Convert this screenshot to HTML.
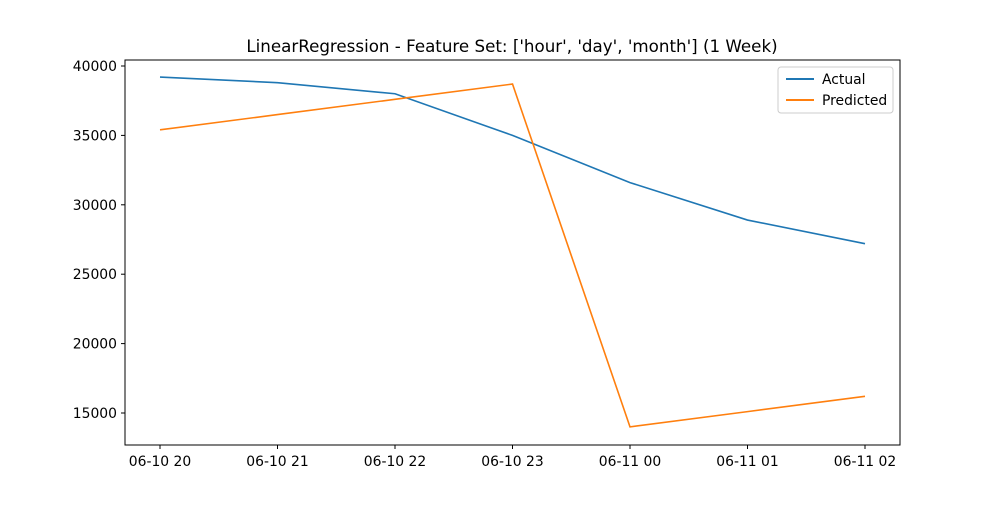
<!DOCTYPE html>
<html><head><meta charset="utf-8"><style>
body{margin:0;background:#fff;font-family:"Liberation Sans","DejaVu Sans",sans-serif}
svg text{font-family:"DejaVu Sans","Liberation Sans",sans-serif;font-size:13.9px;fill:#000}
</style></head><body>
<svg id="chart" width="1000" height="500">
<text x="512" y="52" text-anchor="middle" style="font-size:16.7px">LinearRegression - Feature Set: ['hour', 'day', 'month'] (1 Week)</text>
<g id="marks"></g>
<rect x="125" y="60" width="775" height="385" fill="none" stroke="#000" stroke-width="1"/>
<g>
<rect x="778" y="67" width="115" height="46" fill="#fff" stroke="#ccc" rx="3"/>
<line x1="786" y1="79" x2="814" y2="79" stroke="#1f77b4" stroke-width="2"/>
<text x="822" y="84">Actual</text>
<line x1="786" y1="100" x2="814" y2="100" stroke="#ff7f0e" stroke-width="2"/>
<text x="822" y="105">Predicted</text>
</g>
</svg>
<script>
const categories=["06-10 20","06-10 21","06-10 22","06-10 23","06-11 00","06-11 01","06-11 02"];
const actual=[39200,38800,38000,35000,31600,28900,27200];
const predicted=[35400,36500,37600,38700,14000,15100,16200];
const yTicks=[15000,20000,25000,30000,35000,40000];
const ns="http://www.w3.org/2000/svg";
const g=document.getElementById('marks');
const x=i=>160+i*(865-160)/(categories.length-1);
const y=v=>413-(v-15000)*(413-66)/25000;
function el(t,a){const e=document.createElementNS(ns,t);for(const k in a)e.setAttribute(k,a[k]);g.appendChild(e);return e;}
yTicks.forEach(v=>{
 const l=el('line',{x1:121,x2:125,y1:y(v),y2:y(v),stroke:'#000'});
 
 
 const t=el('text',{x:117,y:y(v)+5,'text-anchor':'end'});t.textContent=v;
 
 
});
categories.forEach((c,i)=>{
 const l=el('line',{x1:x(i),x2:x(i),y1:445,y2:449,stroke:'#000'});
 
 
 const t=el('text',{x:x(i),y:466,'text-anchor':'middle'});t.textContent=c;
 
 
});
[[actual,'#1f77b4','actual-line'],[predicted,'#ff7f0e','predicted-line']].forEach(([d,col,n])=>{
 const p=el('polyline',{points:d.map((v,i)=>x(i)+','+y(v)).join(' '),fill:'none',stroke:col,'stroke-width':1.6});
 
 
});
</script>
</body></html>
